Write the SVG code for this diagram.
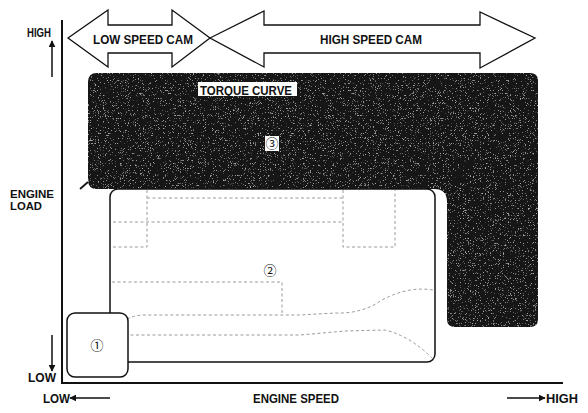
<svg xmlns="http://www.w3.org/2000/svg" width="588" height="413" viewBox="0 0 588 413">
<defs>
<style>
.t{font-family:"Liberation Sans",Arial,sans-serif;font-weight:bold;font-size:13px;fill:#111}
.s{font-size:11.5px}
.n{font-family:"Noto Sans CJK JP","DejaVu Sans",sans-serif;font-size:13px;fill:#111}
.ax{stroke:#111;stroke-width:2;fill:none}
.arr{fill:#fff;stroke:#111;stroke-width:1.3;stroke-linejoin:miter}
.box{fill:#fff;stroke:#111;stroke-width:1.5}
.faint{fill:none;stroke:#9a9a9a;stroke-width:1;stroke-dasharray:3 2.5}
.sm{stroke:#111;stroke-width:1.5;fill:none}
</style>
<marker id="ah" viewBox="0 0 10 10" refX="9" refY="5" markerWidth="7" markerHeight="7" orient="auto-start-reverse" markerUnits="userSpaceOnUse">
<path d="M0,0 L10,5 L0,10 Z" fill="#111"/>
</marker>
<filter id="grain" x="0" y="0" width="100%" height="100%">
<feTurbulence type="fractalNoise" baseFrequency="1.4" numOctaves="1" seed="3" result="n"/>
<feColorMatrix in="n" type="matrix" values="0 0 0 0 0.4  0 0 0 0 0.4  0 0 0 0 0.4  0 0 0 8 -5.0" result="dots"/>
<feComposite in="dots" in2="SourceGraphic" operator="in" result="d2"/>
<feMerge><feMergeNode in="SourceGraphic"/><feMergeNode in="d2"/></feMerge>
</filter>
</defs>

<g id="axes">
<line class="ax" x1="62" y1="20" x2="62" y2="384"/>
<line class="ax" x1="61" y1="383" x2="563" y2="383"/>
</g>

<g id="axis-labels">
<text class="t" x="27" y="37" textLength="24" lengthAdjust="spacingAndGlyphs">HIGH</text>
<line class="sm" x1="52" y1="77" x2="52" y2="41" marker-end="url(#ah)"/>
<text class="t s" x="10" y="198" textLength="44" lengthAdjust="spacingAndGlyphs">ENGINE</text>
<text class="t s" x="10" y="210" textLength="32" lengthAdjust="spacingAndGlyphs">LOAD</text>
<line class="sm" x1="52" y1="335" x2="52" y2="371" marker-end="url(#ah)"/>
<text class="t" x="28" y="382" textLength="28" lengthAdjust="spacingAndGlyphs">LOW</text>
<text class="t" x="43" y="403" textLength="27" lengthAdjust="spacingAndGlyphs">LOW</text>
<line class="sm" x1="110" y1="398" x2="70" y2="398" marker-end="url(#ah)"/>
<text class="t" x="253" y="403" textLength="86" lengthAdjust="spacingAndGlyphs">ENGINE SPEED</text>
<line class="sm" x1="507" y1="398" x2="545" y2="398" marker-end="url(#ah)"/>
<text class="t" x="546" y="403" textLength="32" lengthAdjust="spacingAndGlyphs">HIGH</text>
</g>

<g id="low-speed-cam">
<path class="arr" d="M68,38 L108,10 L108,25 L172,25 L172,10 L210,38 L172,67 L172,53 L108,53 L108,67 Z"/>
<text class="t" x="93" y="44" textLength="100" lengthAdjust="spacingAndGlyphs">LOW SPEED CAM</text>
</g>

<g id="high-speed-cam">
<path class="arr" d="M210,38 L264,11 L264,25 L480,25 L480,12 L535,38 L480,68 L480,53 L264,53 L264,67 Z"/>
<text class="t" x="320" y="44" textLength="102" lengthAdjust="spacingAndGlyphs">HIGH SPEED CAM</text>
</g>

<g id="region3">
<path d="M97,73 H530 Q538,73 538,81 V319 Q538,327 530,327 H455 Q447,327 447,319 V202 Q447,189 434,189 H97 Q88,189 88,180 V82 Q88,73 97,73 Z" fill="#121212" filter="url(#grain)"/>
<line x1="88" y1="182" x2="80" y2="189" stroke="#141414" stroke-width="1.8"/>
<rect x="198" y="82" width="99" height="14" fill="#fff"/>
<text class="t" x="200" y="94.5" textLength="92" lengthAdjust="spacingAndGlyphs">TORQUE CURVE</text>
<rect x="265" y="136" width="14" height="15" fill="#fff"/>
<text class="n" x="272" y="148" text-anchor="middle">③</text>
</g>

<g id="region2">
<rect class="box" x="110" y="189" width="325" height="173" rx="8"/>
<path class="faint" d="M147,190 V247 H111"/>
<path class="faint" d="M147,198 H343"/>
<path class="faint" d="M113,222 H343"/>
<path class="faint" d="M343,190 V247 H395 V190"/>
<path class="faint" d="M112,282 H282 V315"/>
<path class="faint" d="M115,330 Q122,317 142,315 H300 L335,313 Q362,314 382,300 Q408,286 433,290"/>
<path class="faint" d="M114,335 H300 L345,331 L385,330 Q410,336 432,358"/>
<text class="n" x="270" y="275" text-anchor="middle">②</text>
</g>

<g id="region1">
<rect class="box" x="67" y="313" width="61" height="64" rx="8" stroke-width="1.3"/>
<text class="n" x="97" y="350" text-anchor="middle">①</text>
</g>
</svg>
